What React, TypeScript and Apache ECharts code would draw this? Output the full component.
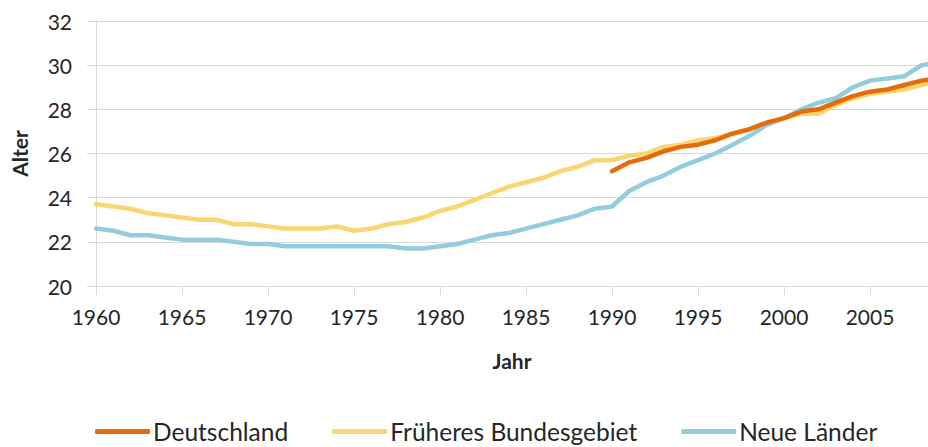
import React, { useEffect, useRef } from "react";
import * as echarts from "echarts";

const years: number[] = [
  1960, 1961, 1962, 1963, 1964, 1965, 1966, 1967, 1968, 1969,
  1970, 1971, 1972, 1973, 1974, 1975, 1976, 1977, 1978, 1979,
  1980, 1981, 1982, 1983, 1984, 1985, 1986, 1987, 1988, 1989,
  1990, 1991, 1992, 1993, 1994, 1995, 1996, 1997, 1998, 1999,
  2000, 2001, 2002, 2003, 2004, 2005, 2006, 2007, 2008, 2009,
];

const frueheresBundesgebiet: number[] = [
  23.7, 23.6, 23.5, 23.3, 23.2, 23.1, 23.0, 23.0, 22.8, 22.8,
  22.7, 22.6, 22.6, 22.6, 22.7, 22.5, 22.6, 22.8, 22.9, 23.1,
  23.4, 23.6, 23.9, 24.2, 24.5, 24.7, 24.9, 25.2, 25.4, 25.7,
  25.7, 25.9, 26.0, 26.3, 26.4, 26.6, 26.7, 26.9, 27.1, 27.4,
  27.6, 27.8, 27.8, 28.2, 28.5, 28.7, 28.8, 28.9, 29.1, 29.3,
];

const neueLaender: number[] = [
  22.6, 22.5, 22.3, 22.3, 22.2, 22.1, 22.1, 22.1, 22.0, 21.9,
  21.9, 21.8, 21.8, 21.8, 21.8, 21.8, 21.8, 21.8, 21.7, 21.7,
  21.8, 21.9, 22.1, 22.3, 22.4, 22.6, 22.8, 23.0, 23.2, 23.5,
  23.6, 24.3, 24.7, 25.0, 25.4, 25.7, 26.0, 26.4, 26.8, 27.3,
  27.6, 28.0, 28.3, 28.5, 29.0, 29.3, 29.4, 29.5, 30.0, 30.1,
];

// Deutschland starts in 1990
const deutschlandStart = 1990;
const deutschland: number[] = [
  25.2, 25.6, 25.8, 26.1, 26.3, 26.4, 26.6, 26.9, 27.1, 27.4,
  27.6, 27.9, 28.0, 28.3, 28.6, 28.8, 28.9, 29.1, 29.3, 29.4,
];

const yTicks = { min: 20, max: 32, interval: 2 };
const xTicks = { min: 1960, max: 2008.37, interval: 5 };

const seriesNames = ["Deutschland", "Früheres Bundesgebiet", "Neue Länder"];
const colors = ["#E46C0A", "#F9D66F", "#93CDDD"];

export default function App() {
  const ref = useRef<HTMLDivElement>(null);

  useEffect(() => {
    document.body.style.margin = "0";
    if (!ref.current) return;
    const chart = echarts.init(ref.current, null, { renderer: "svg" });
    const font = "Lato";
    const textColor = "#262626";
    const gridColor = "#D9D9D9";

    const deData = deutschland.map((v, i) => [deutschlandStart + i, v]);
    const fbData = frueheresBundesgebiet.map((v, i) => [years[i], v]);
    const nlData = neueLaender.map((v, i) => [years[i], v]);

    const lineSeries = (name: string, data: number[][], color: string, z: number) => ({
      name,
      type: "line",
      data,
      symbol: "none",
      showSymbol: false,
      clip: true,
      z,
      lineStyle: { color, width: 4.5, cap: "round", join: "round" },
      itemStyle: { color },
    });

    chart.setOption({
      animation: false,
      textStyle: { fontFamily: font },
      grid: { left: 96, right: 0, top: 21, bottom: 161, containLabel: false },
      xAxis: {
        type: "value",
        min: xTicks.min,
        max: xTicks.max,
        interval: xTicks.interval,
        name: "Jahr",
        nameLocation: "middle",
        nameGap: 64,
        nameTextStyle: { fontFamily: font, fontSize: 21, fontWeight: "bold", color: textColor },
        axisLine: { show: true, lineStyle: { color: gridColor, width: 1 } },
        axisTick: { show: true, length: 9, lineStyle: { color: gridColor } },
        splitLine: { show: false },
        axisLabel: {
          fontFamily: font,
          fontSize: 21,
          color: textColor,
          margin: 20,
          showMaxLabel: false,
          formatter: (v: number) => String(Math.round(v)),
        },
      },
      yAxis: {
        type: "value",
        min: yTicks.min,
        max: yTicks.max,
        interval: yTicks.interval,
        name: "Alter",
        nameLocation: "middle",
        nameGap: 66,
        nameRotate: 90,
        nameTextStyle: { fontFamily: font, fontSize: 21, fontWeight: "bold", color: textColor },
        axisLine: { show: true, lineStyle: { color: gridColor, width: 1 } },
        axisTick: { show: true, length: 9, lineStyle: { color: gridColor } },
        splitLine: { show: true, lineStyle: { color: gridColor, width: 1 } },
        axisLabel: { fontFamily: font, fontSize: 21, color: textColor, margin: 24 },
      },
      legend: {
        data: seriesNames,
        left: 95,
        top: 419,
        padding: 0,
        itemWidth: 55,
        itemHeight: 5,
        itemGap: 44,
        icon: "roundRect",
        textStyle: { fontFamily: font, fontSize: 24.5, color: textColor, padding: [0, 0, 0, -2] },
      },
      series: [
        lineSeries(seriesNames[1], fbData, colors[1], 2),
        lineSeries(seriesNames[2], nlData, colors[2], 3),
        lineSeries(seriesNames[0], deData, colors[0], 4),
      ],
      color: [colors[1], colors[2], colors[0]],
    });

    return () => chart.dispose();
  }, []);

  return <div ref={ref} style={{ width: 928, height: 447 }} />;
}
